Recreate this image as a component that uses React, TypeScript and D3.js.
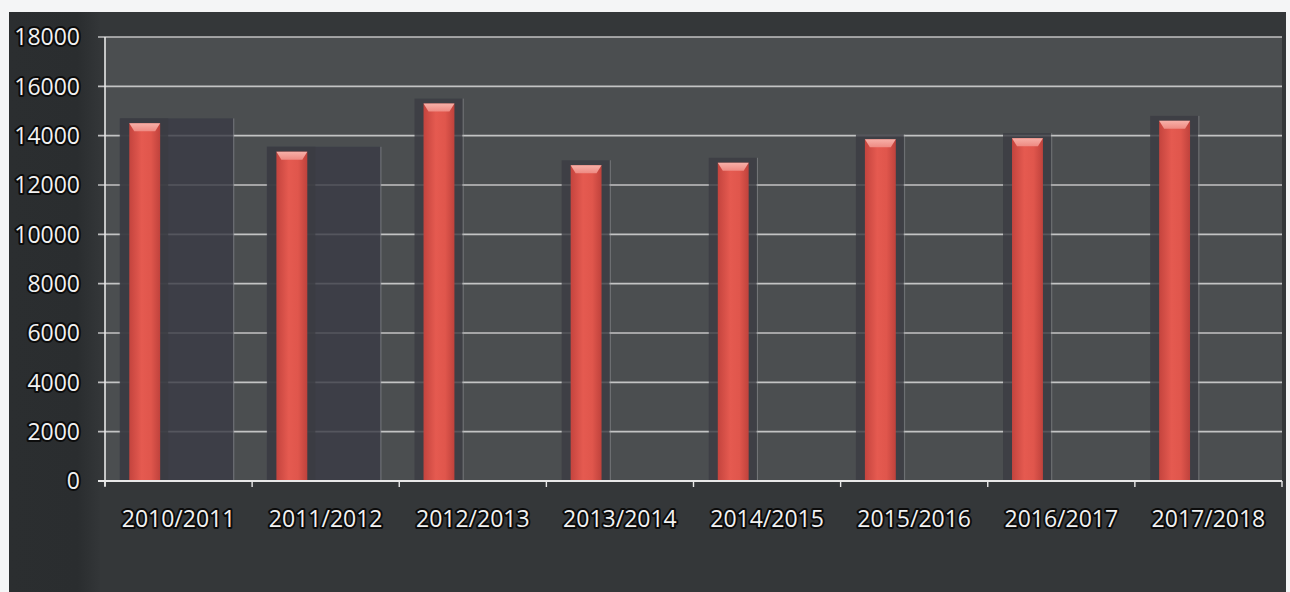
import React from 'react';
import * as d3 from 'd3';

const categories = ['2010/2011', '2011/2012', '2012/2013', '2013/2014', '2014/2015', '2015/2016', '2016/2017', '2017/2018'];
const values = [14500, 13350, 15300, 12800, 12900, 13850, 13900, 14600];
const backdropCategories = ['2010/2011', '2011/2012'];
const backdropValues = [14700, 13550];
const yTicks = [0, 2000, 4000, 6000, 8000, 10000, 12000, 14000, 16000, 18000];

const W = 1290;
const H = 592;
const plot = { left: 105, right: 1282, top: 37, bottom: 481 };

export default function App() {
  const x = d3.scaleBand<string>().domain(categories).range([plot.left, plot.right]).paddingInner(0).paddingOuter(0);
  const y = d3.scaleLinear().domain([0, 18000]).range([plot.bottom, plot.top]);
  const bw = x.bandwidth();
  const barOff = bw * 0.165;
  const barW = bw * 0.21;
  const font = "'Open Sans', sans-serif";

  const textStyle: React.CSSProperties = {
    paintOrder: 'stroke',
  };

  return (
    <svg width={W} height={H} style={{ position: 'absolute', left: 0, top: 0, display: 'block' }} fontFamily={font}>
      <defs>
        <linearGradient id="barGrad" x1="0" x2="1" y1="0" y2="0">
          <stop offset="0%" stopColor="#c4443e" />
          <stop offset="40%" stopColor="#e55a50" />
          <stop offset="70%" stopColor="#e0564c" />
          <stop offset="100%" stopColor="#bf423c" />
        </linearGradient>
        <linearGradient id="capGrad" x1="0" x2="0" y1="0" y2="1">
          <stop offset="0%" stopColor="#f7b0a8" />
          <stop offset="100%" stopColor="#ee8a82" />
        </linearGradient>
        <linearGradient id="leftGrad" x1="0" x2="1" y1="0" y2="0">
          <stop offset="0%" stopColor="#2b2e30" />
          <stop offset="75%" stopColor="#2a2d2f" />
          <stop offset="100%" stopColor="#333638" />
        </linearGradient>
      </defs>
      <rect x={0} y={0} width={W} height={H} fill="#f4f5f6" />
      {/* chart container */}
      <rect x={9} y={12} width={1277} height={H - 12} fill="#343739" />
      {/* left label strip */}
      <rect x={9} y={12} width={plot.left - 9 - 5} height={H - 12} fill="url(#leftGrad)" />
      {/* plot area */}
      <rect x={plot.left} y={plot.top} width={plot.right - plot.left} height={plot.bottom - plot.top} fill="#4b4e50" />

      {/* gridlines */}
      {yTicks.map((t) => (
        <line key={'g' + t} x1={plot.left - 7} x2={plot.right} y1={y(t)} y2={y(t)} stroke="#d9d9d9" strokeWidth={1.6} opacity={0.85} />
      ))}

      {/* backdrop boxes */}
      {backdropCategories.map((c, i) => {
        const bx = (x(c) as number) + bw * 0.1;
        const bx2 = (x(c) as number) + bw * 0.875;
        return (
          <g key={'bd' + c}>
            <rect x={bx} y={y(backdropValues[i])} width={bx2 - bx} height={plot.bottom - y(backdropValues[i])} fill="#3a3b45" opacity={0.8} />
            <line x1={bx2} x2={bx2} y1={y(backdropValues[i])} y2={plot.bottom} stroke="#9a9ba0" strokeWidth={1} opacity={0.6} />
          </g>
        );
      })}

      {/* bar shadows */}
      {categories.map((c, i) => {
        const bx = (x(c) as number) + barOff;
        const top = y(values[i]) - 5;
        return (
          <g key={'s' + c}>
            <rect x={bx - 9} y={top} width={barW + 17} height={plot.bottom - top} fill="#3b3c42" opacity={0.8} />
            {i >= 2 && (
              <line x1={(x(c) as number) + bw * 0.435} x2={(x(c) as number) + bw * 0.435} y1={top} y2={plot.bottom} stroke="#a0a2a6" strokeWidth={1} opacity={0.45} />
            )}
          </g>
        );
      })}

      {/* bars */}
      {categories.map((c, i) => {
        const bx = (x(c) as number) + barOff;
        const top = y(values[i]);
        const capH = 8;
        return (
          <g key={'b' + c}>
            <rect x={bx} y={top} width={barW} height={plot.bottom - top} fill="url(#barGrad)" />
            <path d={`M${bx},${top} L${bx + barW},${top} L${bx + barW - 5},${top + capH} L${bx + 5},${top + capH} Z`} fill="url(#capGrad)" />
          </g>
        );
      })}

      {/* axes */}
      <line x1={plot.left} x2={plot.left} y1={plot.top} y2={plot.bottom + 5} stroke="#e8e8e8" strokeWidth={1.6} />
      <line x1={plot.left - 7} x2={plot.right} y1={plot.bottom} y2={plot.bottom} stroke="#e8e8e8" strokeWidth={1.8} />
      {categories.concat(['end']).map((c, i) => {
        const tx = plot.left + i * bw;
        return <line key={'xt' + i} x1={tx} x2={tx} y1={plot.bottom} y2={plot.bottom + 6} stroke="#e8e8e8" strokeWidth={1.4} />;
      })}

      {/* y labels */}
      {yTicks.map((t) => (
        <text key={'yl' + t} x={80} y={y(t)} dy="0.36em" textAnchor="end" fontSize={23} fill="#f2f2f2" stroke="#0c0c0c" strokeWidth={4} strokeLinejoin="round" style={textStyle}>
          {t}
        </text>
      ))}

      {/* x labels */}
      {categories.map((c) => (
        <text key={'xl' + c} x={(x(c) as number) + bw / 2} y={519} dy="0.36em" textAnchor="middle" fontSize={23} fill="#f2f2f2" stroke="#0c0c0c" strokeWidth={4} strokeLinejoin="round" style={textStyle}>
          {c}
        </text>
      ))}
    </svg>
  );
}
